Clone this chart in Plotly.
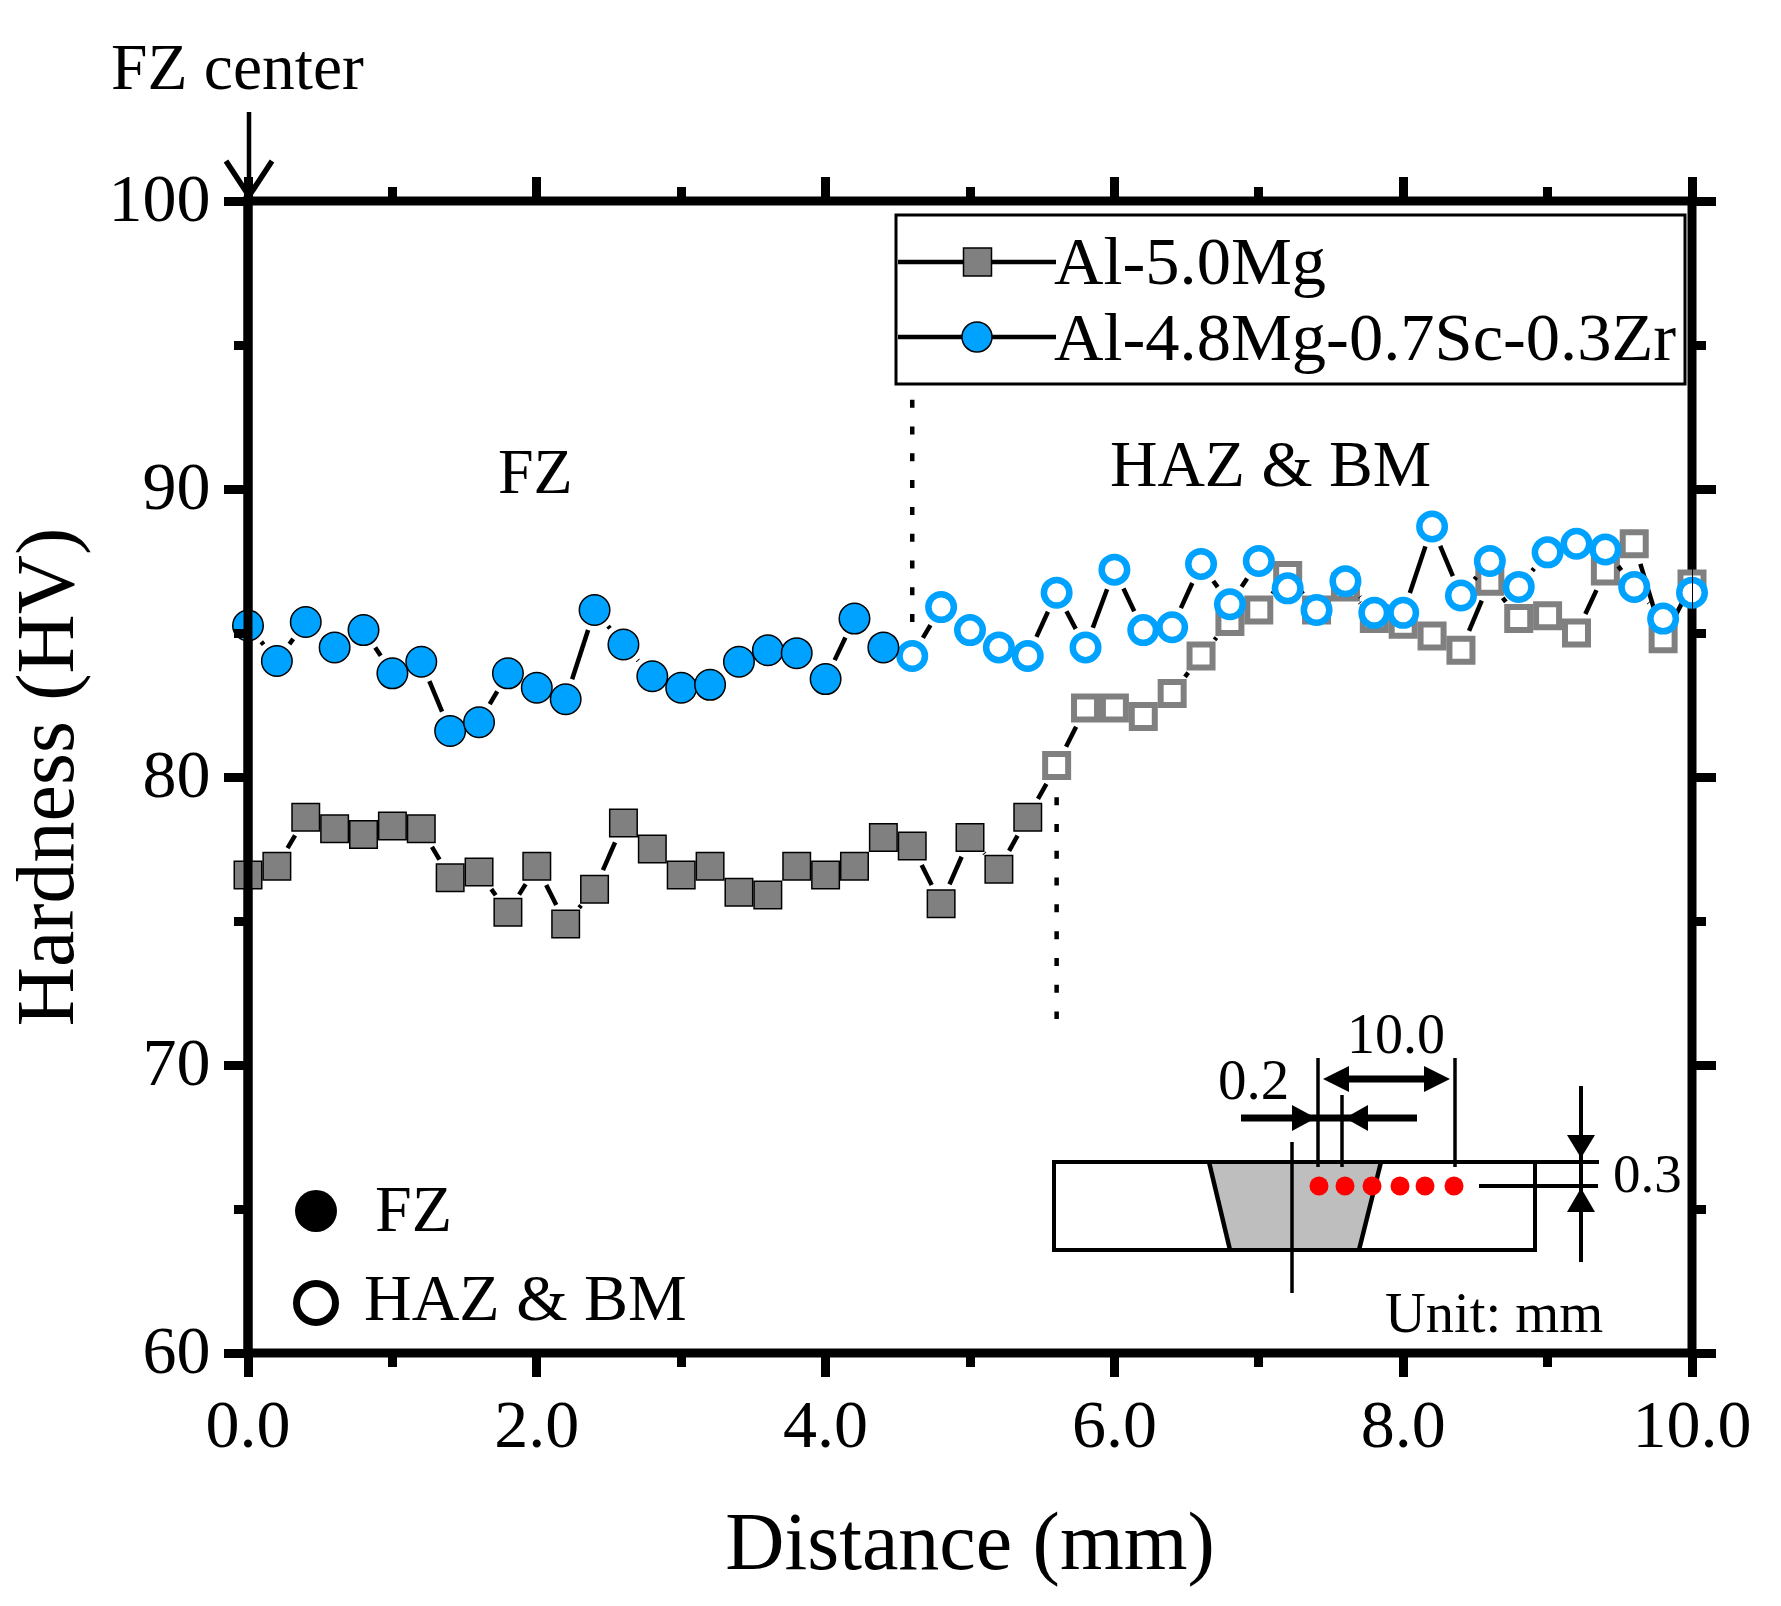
import plotly.graph_objects as go

# ---------- data ----------
distance = [0.0, 0.2, 0.4, 0.6, 0.8, 1.0, 1.2, 1.4, 1.6, 1.8, 2.0, 2.2, 2.4, 2.6, 2.8, 3.0, 3.2,
            3.4, 3.6, 3.8, 4.0, 4.2, 4.4, 4.6, 4.8, 5.0, 5.2, 5.4, 5.6, 5.8, 6.0, 6.2, 6.4, 6.6,
            6.8, 7.0, 7.2, 7.4, 7.6, 7.8, 8.0, 8.2, 8.4, 8.6, 8.8, 9.0, 9.2, 9.4, 9.6, 9.8, 10.0]
al_mg = [76.6, 76.9, 78.6, 78.2, 78.0, 78.3, 78.2, 76.5, 76.7, 75.3, 76.9, 74.9, 76.1, 78.4, 77.5,
         76.6, 76.9, 76.0, 75.9, 76.9, 76.6, 76.9, 77.9, 77.6, 75.6, 77.9, 76.8, 78.6, 80.4, 82.4,
         82.4, 82.1, 82.9, 84.2, 85.4, 85.8, 87.0, 85.8, 86.6, 85.5, 85.3, 84.9, 84.4, 86.8, 85.5,
         85.6, 85.0, 87.15, 88.1, 84.8, 86.7]
al_mg_sc_zr = [85.26, 84.03, 85.38, 84.5, 85.1, 83.6, 84.0, 81.6, 81.9, 83.6, 83.1, 82.7, 85.8, 84.6,
               83.5, 83.1, 83.2, 84.0, 84.4, 84.3, 83.4, 85.5, 84.5, 84.2, 85.9, 85.1, 84.5, 84.2,
               86.4, 84.5, 87.2, 85.1, 85.2, 87.4, 86.0, 87.5, 86.55, 85.8, 86.8, 85.7, 85.7, 88.7,
               86.3, 87.5, 86.6, 87.8, 88.1, 87.9, 86.6, 85.5, 86.4]
al_mg_fz_count = 28          # first points with filled symbols (fusion zone)
al_mg_sc_zr_fz_count = 23
series_names = ["Al-5.0Mg", "Al-4.8Mg-0.7Sc-0.3Zr"]

# ---------- layout constants (page pixels) ----------
W, H = 1781, 1606
L, R, T, B = 248, 1692, 201, 1353
GRAY, BLUE = "#808080", "#00A2FF"
FONT = "Liberation Serif"
X0, X1, Y0, Y1 = 0, 10, 60, 100
sx = (R - L) / (X1 - X0)
sy = (B - T) / (Y1 - Y0)
GAP = 21


def fx(x):
    return (x - L) / (R - L)


def fy(y):
    return (B - y) / (B - T)


def gapped(xs, ys):
    """Line segments between neighbouring points, stopped short of the symbols."""
    ox, oy = [], []
    for a, b, c, d in zip(xs[:-1], ys[:-1], xs[1:], ys[1:]):
        dx, dy = (c - a) * sx, (d - b) * sy
        n = (dx * dx + dy * dy) ** 0.5
        if n <= 2 * GAP:
            continue
        t = GAP / n
        ox += [a + (c - a) * t, c - (c - a) * t, None]
        oy += [b + (d - b) * t, d - (d - b) * t, None]
    return ox, oy


def line(x0, y0, x1, y1, w=4, layer="above", color="black"):
    return dict(type="line", xref="paper", yref="paper", x0=fx(x0), y0=fy(y0), x1=fx(x1), y1=fy(y1),
                line=dict(color=color, width=w), layer=layer)


def poly(pts, fill="black", lw=0, color="black"):
    path = "M " + " L ".join(f"{fx(a):.5f} {fy(b):.5f}" for a, b in pts)
    d = dict(type="path", xref="paper", yref="paper", path=path + (" Z" if fill else ""),
             line=dict(color=color, width=lw))
    if fill:
        d["fillcolor"] = fill
    return d


def rect(x0, y0, x1, y1, lw=4, fill=None, kind="rect", color="black", layer="above"):
    d = dict(type=kind, xref="paper", yref="paper", x0=fx(x0), y0=fy(y0), x1=fx(x1), y1=fy(y1),
             line=dict(color=color, width=lw), layer=layer)
    if fill:
        d["fillcolor"] = fill
    return d


def text(s, x, base, size):
    return dict(text=s, xref="paper", yref="paper", x=fx(x - 3), y=fy(base + 2 + 0.216 * size), xanchor="left",
                yanchor="bottom", showarrow=False, borderpad=0,
                font=dict(family=FONT, size=size, color="black"))


fig = go.Figure()


def add_series(ys, n_filled, color, sym, fsize, hsize, hlw, name):
    lx, ly = gapped(distance, ys)
    fig.add_trace(go.Scatter(x=lx, y=ly, mode="lines", line=dict(color="black", width=4.5), cliponaxis=False,
                             showlegend=False, hoverinfo="skip", connectgaps=False))
    fig.add_trace(go.Scatter(x=distance[n_filled:], y=ys[n_filled:], mode="markers", cliponaxis=False,
                             name=name + " HAZ & BM", showlegend=False,
                             marker=dict(symbol=sym, size=hsize, color="white", line=dict(color=color, width=hlw))))
    fig.add_trace(go.Scatter(x=distance[:n_filled], y=ys[:n_filled], mode="markers", cliponaxis=False,
                             name=name + " FZ", showlegend=False,
                             marker=dict(symbol=sym, size=fsize, color=color, line=dict(color="black", width=1.5))))


# dotted boundaries
fig.add_trace(go.Scatter(x=[4.6, 4.6], y=[93.1, 84.5], mode="lines", cliponaxis=False, showlegend=False,
                         line=dict(color="black", width=4.5, dash="8px,18.8px"), hoverinfo="skip"))
fig.add_trace(go.Scatter(x=[5.6, 5.6], y=[79.3, 71.6], mode="lines", cliponaxis=False, showlegend=False,
                         line=dict(color="black", width=4.5, dash="8px,18.8px"), hoverinfo="skip"))

add_series(al_mg, al_mg_fz_count, GRAY, "square", 27.5, 23, 6, series_names[0])
add_series(al_mg_sc_zr, al_mg_sc_zr_fz_count, BLUE, "circle", 30.5, 25.5, 6.5, series_names[1])

shapes = []
# frame: right, top, bottom under the marks, left over them
shapes.append(rect(L, T, R, B, lw=9, layer="below"))
shapes.append(line(L, T - 4.5, L, B + 4.5, w=9))
# FZ center arrow
shapes.append(line(L + 1, 112, L + 1, 197, w=4.5))
shapes.append(poly([(226, 161), (L + 1, 196), (272, 161)], fill=None, lw=5.5))
# series key
shapes.append(rect(896, 215, 1685, 384, lw=3, fill="white"))
shapes.append(line(898, 262, 1056, 262, w=4.5))
shapes.append(line(898, 337, 1056, 337, w=4.5))
shapes.append(rect(963.5, 248, 991.5, 276, lw=1.5, fill=GRAY))
shapes.append(rect(962, 322, 992, 352, lw=1.5, fill=BLUE, kind="circle"))
# symbol key
shapes.append(rect(295, 1190, 337, 1232, lw=0, fill="black", kind="circle"))
shapes.append(rect(296.5, 1283.5, 335.5, 1322.5, lw=7, kind="circle"))
# inset schematic
shapes.append(poly([(1209, 1162), (1381, 1162), (1359, 1250), (1230, 1250)], fill="#BEBEBE"))
shapes.append(line(1209, 1162, 1230, 1250, w=4.5))
shapes.append(line(1381, 1162, 1359, 1250, w=4.5))
shapes.append(rect(1054, 1162, 1535, 1250, lw=4))
shapes.append(line(1535, 1162, 1599, 1162, w=4))
shapes.append(line(1292, 1142, 1292, 1293, w=3.5))
shapes.append(line(1318, 1058, 1318, 1167, w=3.5))
shapes.append(line(1342, 1095, 1342, 1167, w=3.5))
shapes.append(line(1455, 1058, 1455, 1167, w=3.5))
shapes.append(line(1340, 1079, 1433, 1079, w=7))
shapes.append(poly([(1323, 1079), (1349, 1066), (1349, 1092)]))
shapes.append(poly([(1450, 1079), (1424, 1066), (1424, 1092)]))
shapes.append(line(1241, 1118, 1417, 1118, w=7))
shapes.append(poly([(1316, 1118), (1292, 1105), (1292, 1131)]))
shapes.append(poly([(1345, 1118), (1368, 1105), (1368, 1131)]))
shapes.append(line(1581, 1086, 1581, 1262, w=4))
shapes.append(poly([(1581, 1158), (1567, 1135), (1595, 1135)]))
shapes.append(poly([(1581, 1188), (1567, 1212), (1595, 1212)]))
shapes.append(line(1479, 1186, 1598, 1186, w=4))
for cx in [1319, 1345, 1372, 1400, 1425, 1454]:
    shapes.append(rect(cx - 9.5, 1176.5, cx + 9.5, 1195.5, lw=0, fill="#FF0000", kind="circle"))

annotations = [
    text("FZ center", 113, 88, 65.5),
    text("FZ", 500, 492, 64),
    text("HAZ &amp; BM", 1112, 485, 65.7),
    text(series_names[0], 1056, 283, 68.5),
    text(series_names[1], 1056, 359, 68.5),
    text("FZ", 377, 1230, 66),
    text("HAZ &amp; BM", 366, 1319, 66),
    text("10.0", 1349, 1052, 56),
    text("0.2", 1220, 1098, 57),
    text("0.3", 1615, 1191, 55),
    text("Unit: mm", 1387, 1331, 56.5),
]

axis_common = dict(showgrid=False, zeroline=False, showline=True, linewidth=1, linecolor="black",
                   mirror="allticks", ticks="outside", ticklen=23, tickwidth=9, tickcolor="black",
                   tickfont=dict(family=FONT, size=68, color="black"))

fig.update_xaxes(range=[X0, X1], dtick=2, tick0=0, tickformat=".1f", ticklabelstandoff=-12,
                 title=dict(text="Distance (mm)", font=dict(family=FONT, size=82, color="black"), standoff=51),
                 minor=dict(dtick=1, ticks="outside", ticklen=13, tickwidth=9, tickcolor="black", showgrid=False),
                 **axis_common)
fig.update_yaxes(range=[Y0, Y1], dtick=10, tick0=60, ticklabelshift=-4,
                 title=dict(text="Hardness (HV)", font=dict(family=FONT, size=82, color="black"), standoff=23),
                 minor=dict(dtick=5, ticks="outside", ticklen=13, tickwidth=9, tickcolor="black", showgrid=False),
                 **axis_common)
fig.update_layout(width=W, height=H, margin=dict(l=L, r=W - R, t=T, b=H - B, autoexpand=False),
                  paper_bgcolor="white", plot_bgcolor="white", showlegend=False,
                  font=dict(family=FONT), shapes=shapes, annotations=annotations)
fig.write_html("out.html", post_script="document.body.style.margin='0';", config=dict(displayModeBar=False))
